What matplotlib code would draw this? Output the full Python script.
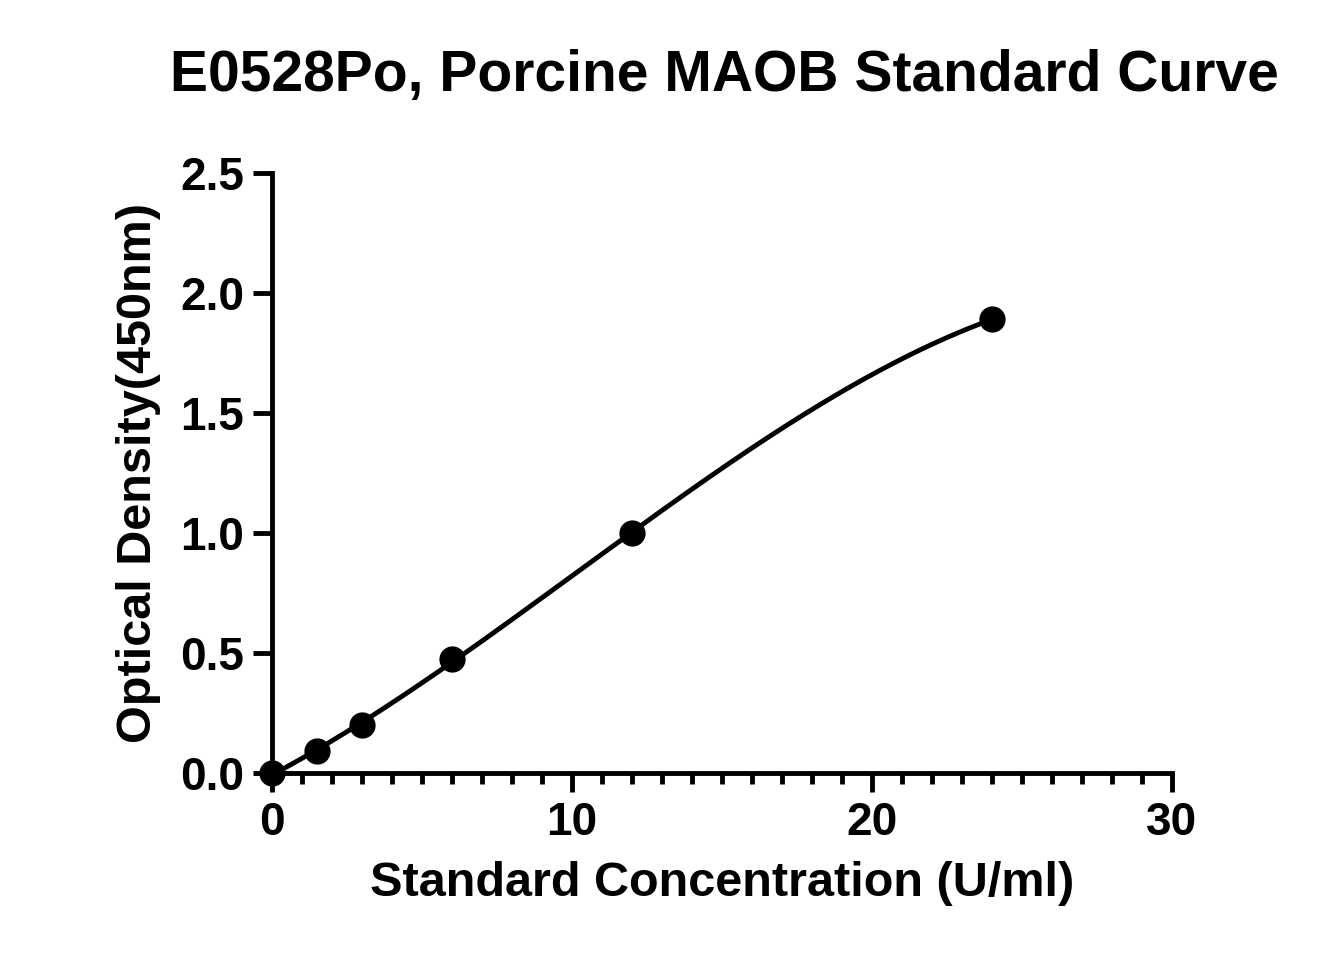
import numpy as np
import matplotlib
matplotlib.use("Agg")
import matplotlib.pyplot as plt
from matplotlib.ticker import MultipleLocator

# standard concentrations (U/ml) and measured OD
conc = [0, 1.5, 3, 6, 12, 24]
od = [0.0, 0.09, 0.2, 0.475, 1.0, 1.89]

plt.rcParams['font.family'] = ['Liberation Sans', 'DejaVu Sans']
plt.rcParams['font.weight'] = 'bold'

fig = plt.figure(figsize=(13.35, 9.75), dpi=100)
ax = fig.add_axes([0.2037, 0.2072, 0.6742, 0.6154])

# smooth fitted curve through the standards
coef = np.polyfit(conc, od, 3)
xs = np.linspace(0, 24, 300)
ax.plot(xs, np.polyval(coef, xs), color='black', lw=3.5, zorder=2)
ax.scatter(conc, od, s=320, color='black', zorder=3, clip_on=False)

ax.set_xlim(0, 30)
ax.set_ylim(0, 2.5)
ax.xaxis.set_major_locator(MultipleLocator(10))
ax.xaxis.set_minor_locator(MultipleLocator(1))
ax.yaxis.set_major_locator(MultipleLocator(0.5))
ax.yaxis.set_major_formatter(matplotlib.ticker.FormatStrFormatter('%.1f'))

for s in ['top', 'right']:
    ax.spines[s].set_visible(False)
for s in ['left', 'bottom']:
    ax.spines[s].set_linewidth(3.5)
ax.tick_params(which='major', length=14, width=3.5, labelsize=33, pad=6)
ax.tick_params(which='minor', length=8, width=3.5)

ax.set_xlabel('Standard Concentration (U/ml)', fontsize=35, fontweight='bold', labelpad=12)
ax.set_ylabel('Optical Density(450nm)', fontsize=35, fontweight='bold', labelpad=14)
fig.suptitle('E0528Po, Porcine MAOB Standard Curve', fontsize=41, fontweight='bold',
             x=0.543, y=0.95)

fig.savefig('out.png', dpi=100)
